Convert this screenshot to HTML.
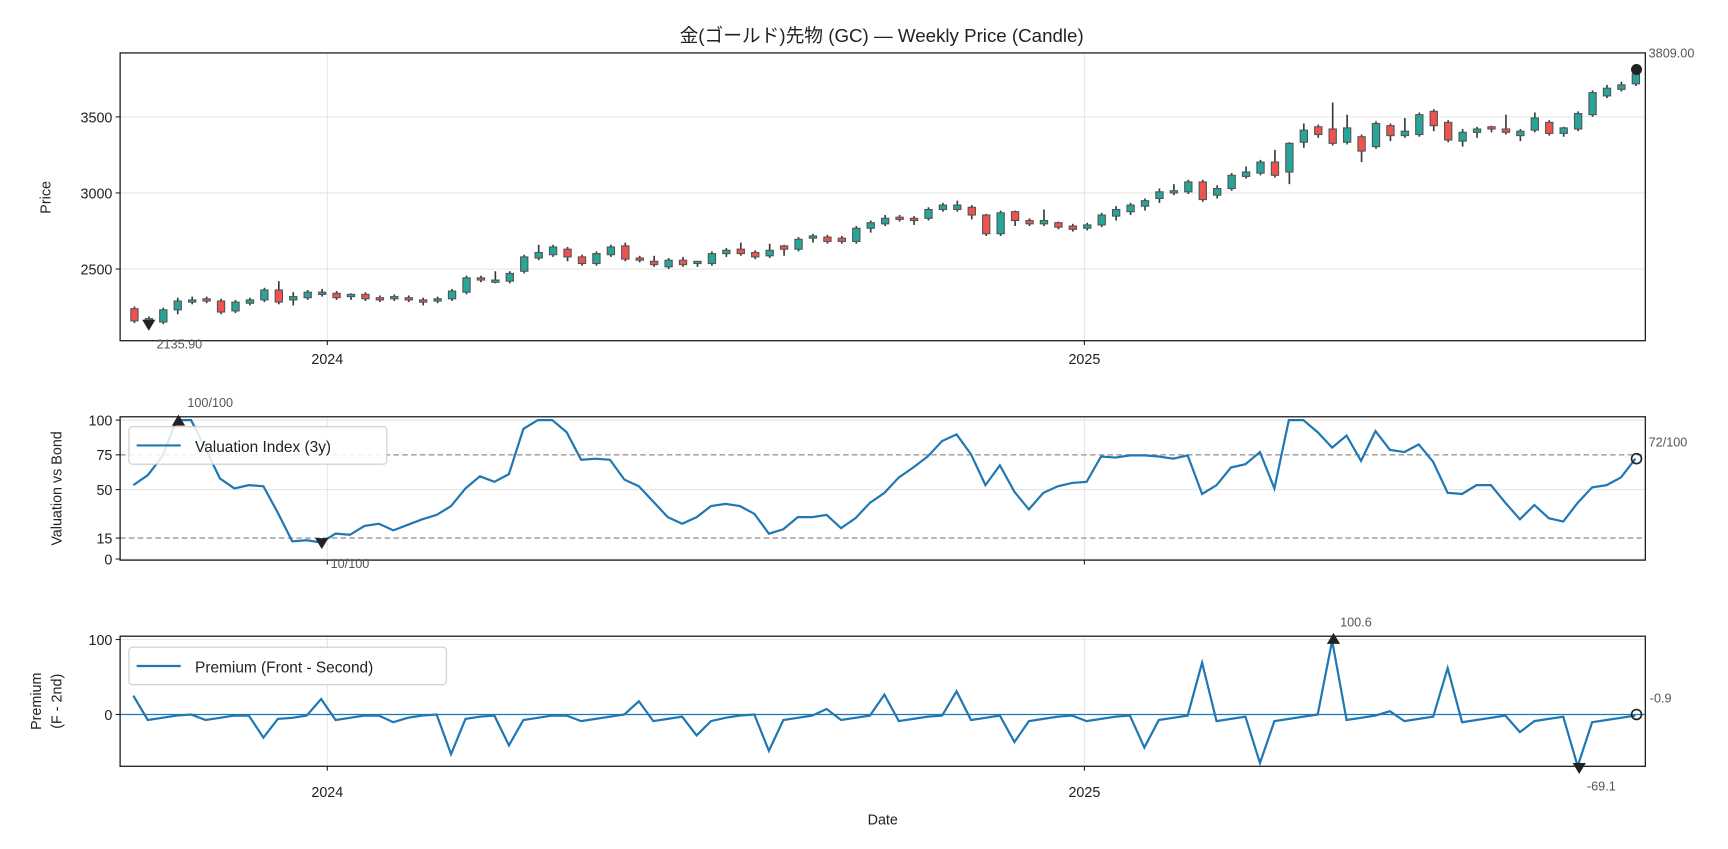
<!DOCTYPE html>
<html><head><meta charset="utf-8"><style>
html,body{margin:0;padding:0;background:#fff;}
svg{display:block;}
text{font-family:"Liberation Sans","Noto Sans CJK JP",sans-serif;fill:#222;}
</style></head><body>
<svg id="s" width="1728" height="849" viewBox="0 0 1568 770" preserveAspectRatio="none" xmlns="http://www.w3.org/2000/svg">
<rect x="0" y="0" width="1568" height="770" fill="#fff"/>
<text x="800" y="38" font-size="17" text-anchor="middle">金(ゴールド)先物 (GC) — Weekly Price (Candle)</text>
<!-- grids -->
<g stroke="#e6e6e6" stroke-width="1">
<line x1="109" y1="106" x2="1493" y2="106"/><line x1="109" y1="175" x2="1493" y2="175"/><line x1="109" y1="244" x2="1493" y2="244"/>
<line x1="297" y1="48" x2="297" y2="309"/><line x1="984" y1="48" x2="984" y2="309"/>
<line x1="109" y1="381" x2="1493" y2="381"/><line x1="109" y1="444" x2="1493" y2="444"/><line x1="109" y1="507" x2="1493" y2="507"/>
<line x1="297" y1="378" x2="297" y2="508"/><line x1="984" y1="378" x2="984" y2="508"/>
<line x1="109" y1="580" x2="1493" y2="580"/>
<line x1="297" y1="577" x2="297" y2="695"/><line x1="984" y1="577" x2="984" y2="695"/>
</g>
<g stroke="#999" stroke-width="1.2" stroke-dasharray="5,3">
<line x1="109" y1="412.5" x2="1493" y2="412.5"/><line x1="109" y1="488" x2="1493" y2="488"/>
</g>
<line x1="109" y1="648" x2="1493" y2="648" stroke="#1f77b4" stroke-width="1.2"/>
<g id="candles"></g>
<polyline id="val" fill="none" stroke="#1f77b4" stroke-width="2"/>
<polyline id="prem" fill="none" stroke="#1f77b4" stroke-width="2"/>
<!-- axes frames -->
<g fill="none" stroke="#222" stroke-width="1.2">
<rect x="109" y="48" width="1384" height="261"/>
<rect x="109" y="378" width="1384" height="130"/>
<rect x="109" y="577" width="1384" height="118"/>
</g>
<!-- ticks -->
<g stroke="#222" stroke-width="1">
<line x1="105" y1="106" x2="109" y2="106"/><line x1="105" y1="175" x2="109" y2="175"/><line x1="105" y1="244" x2="109" y2="244"/>
<line x1="297" y1="309" x2="297" y2="313"/><line x1="984" y1="309" x2="984" y2="313"/>
<line x1="105" y1="381" x2="109" y2="381"/><line x1="105" y1="412.5" x2="109" y2="412.5"/><line x1="105" y1="444" x2="109" y2="444"/><line x1="105" y1="488" x2="109" y2="488"/><line x1="105" y1="507" x2="109" y2="507"/>
<line x1="297" y1="508" x2="297" y2="512"/><line x1="984" y1="508" x2="984" y2="512"/>
<line x1="105" y1="580" x2="109" y2="580"/><line x1="105" y1="648" x2="109" y2="648"/>
<line x1="297" y1="695" x2="297" y2="699"/><line x1="984" y1="695" x2="984" y2="699"/>
</g>
<g font-size="13" text-anchor="end">
<text x="102" y="111">3500</text><text x="102" y="180">3000</text><text x="102" y="249">2500</text>
<text x="102" y="386">100</text><text x="102" y="417">75</text><text x="102" y="449">50</text><text x="102" y="493">15</text><text x="102" y="512">0</text>
<text x="102" y="585">100</text><text x="102" y="653">0</text>
</g>
<g font-size="13" text-anchor="middle">
<text x="297" y="330">2024</text><text x="984" y="330">2025</text>
<text x="297" y="723">2024</text><text x="984" y="723">2025</text>
<text x="801" y="748">Date</text>
</g>
<g font-size="13" text-anchor="middle">
<text transform="translate(46,179) rotate(-90)">Price</text>
<text transform="translate(56,443) rotate(-90)">Valuation vs Bond</text>
<text transform="translate(37,636) rotate(-90)">Premium</text>
<text transform="translate(56,636) rotate(-90)">(F - 2nd)</text>
</g>
<!-- legends -->
<rect x="117" y="387" width="234" height="34" rx="3" fill="#fff" fill-opacity="0.85" stroke="#ccc"/>
<line x1="124" y1="404" x2="164" y2="404" stroke="#1f77b4" stroke-width="2"/>
<text x="177" y="410" font-size="14">Valuation Index (3y)</text>
<rect x="117" y="587" width="288" height="34" rx="3" fill="#fff" fill-opacity="0.85" stroke="#ccc"/>
<line x1="124" y1="604" x2="164" y2="604" stroke="#1f77b4" stroke-width="2"/>
<text x="177" y="610" font-size="14">Premium (Front - Second)</text>
<!-- markers & annotations -->
<g fill="#222">
<polygon points="129,290 141,290 135,300"/>
<polygon points="156,386 168,386 162,376"/>
<polygon points="286,488 298,488 292,498"/>
<polygon points="1204,584 1216,584 1210,574"/>
<polygon points="1427,692 1439,692 1433,702"/>
</g>
<circle cx="1485" cy="63" r="5" fill="#222"/>
<circle cx="1485" cy="416" r="4.5" fill="none" stroke="#222" stroke-width="1.5"/>
<circle cx="1485" cy="648" r="4.5" fill="none" stroke="#222" stroke-width="1.5"/>
<g font-size="11.5" fill="#555">
<text x="142" y="316" style="fill:#555">2135.90</text>
<text x="1496" y="52" style="fill:#555">3809.00</text>
<text x="170" y="369" style="fill:#555">100/100</text>
<text x="300" y="515" style="fill:#555">10/100</text>
<text x="1496" y="405" style="fill:#555">72/100</text>
<text x="1216" y="568" style="fill:#555">100.6</text>
<text x="1497" y="637" style="fill:#555">-0.9</text>
<text x="1440" y="717" style="fill:#555">-69.1</text>
</g>
</svg>
<script>
var C=[[280,291,'r'],[289,291,'g'],[281,292,'g'],[273,281,'g',270,285],[272,274,'g',269,276],[271,273,'r'],[273,283,'r'],[274,282,'g'],[272,275,'g'],[263,272,'g'],
[263,274,'r',255],[269,272,'g',265,277],[265,270,'g'],[265,267,'g',262],[266,270,'r'],[267,268,'g',266,272],[267,271,'r'],[270,272,'r'],[269,271,'g',267],[270,272,'r'],
[272,274,'r',270,277],[271,273,'g'],[264,271,'g'],[252,265,'g'],[252,254,'r'],[254,255,'g',246,257],[248,255,'g'],[233,246,'g'],[229,234,'g',222,236],[224,231,'g'],
[226,233,'r',224,237],[233,239,'r'],[230,239,'g'],[224,231,'g'],[223,235,'r',220],[234,236,'r',232],[237,240,'r',232,242],[236,242,'g'],[236,240,'r',233],[237,239,'g',237,242],
[230,239,'g'],[227,230,'g',225,233],[226,230,'r',220],[229,233,'r'],[227,232,'g',221],[223,226,'r',222,232],[217,226,'g'],[214,216,'g',212,220],[215,219,'r'],[216,219,'r'],
[207,219,'g'],[202,207,'g',200,211],[198,203,'g',195],[197,199,'r'],[198,199,'r',196,204],[190,198,'g'],[186,190,'g'],[186,190,'g',182],[188,195,'r',186,199],[195,212,'r',194,214],
[193,212,'g'],[192,200,'r',191,205],[200,203,'r'],[200,203,'g',190],[202,206,'r',201,208],[205,208,'r'],[204,207,'g',202,209],[195,204,'g',193,206],[190,196,'g',187,200],[186,192,'g',184,195],
[182,187,'g',180,191],[174,180,'g',171,184],[173,175,'g',167],[165,174,'g'],[165,181,'r'],[171,177,'g',168,180],[159,171,'g',157,173],[156,160,'g',151],[147,157,'g'],[147,159,'r',136],
[130,156,'g',129,167],[118,129,'g',112,134],[115,122,'r',113,125],[117,130,'r',93,132],[116,129,'g',104],[124,137,'r',122,147],[112,133,'g'],[114,123,'r',112,128],[119,123,'g',107],[104,122,'g'],
[101,114,'r',99,119],[111,127,'r'],[120,128,'g',117,133],[117,120,'g',115,125],[115,117,'r',114,120],[117,120,'r',104],[119,123,'g',117,128],[107,118,'g',102],[111,121,'r'],[116,121,'g',115,124],
[103,117,'g'],[84,104,'g'],[80,87,'g',77],[77,81,'g',74,83],[67,76,'g']];
var h='';
for(var i=0;i<C.length;i++){var c=C[i],x=122+13.1*i,t=c[0],b=c[1],wt=c[3]!==undefined?c[3]:t-2,wb=c[4]!==undefined?c[4]:b+2;
if(b-t<2){b=t+2;}
h+='<line x1="'+x+'" y1="'+wt+'" x2="'+x+'" y2="'+wb+'" stroke="#3a3a3a" stroke-width="1.5"/>';
h+='<rect x="'+(x-3.3)+'" y="'+t+'" width="6.6" height="'+(b-t)+'" fill="'+(c[2]=='g'?'#26a69a':'#ef5350')+'" stroke="#555" stroke-width="1"/>';}
document.getElementById('candles').innerHTML=h;
var V=[440,431,414,381,381,407,434,443,440,441,465,491,490,492,484,485,477,475,481,476,471,467,459,443,432,437,430,389,381,381,392,417,416,417,435,441,455,469,475,469,459,457,459,466,484,480,469,469,467,479,470,456,447,433,424,414,400,394,412,440,422,446,462,447,441,438,437,414,415,413,413,414,416,413,448,440,424,421,410,443,381,381,392,406,395,418,391,408,410,403,419,447,448,440,440,456,471,458,470,473,456,442,440,433,416];
var P=[631,653,651,649,648,653,651,649,649,669,652,651,649,634,653,651,649,649,655,651,649,648,684,652,650,649,676,653,651,649,649,654,652,650,648,636,654,652,650,667,654,651,649,648,681,653,651,649,643,653,651,649,630,654,652,650,649,627,653,651,649,673,654,652,650,649,654,652,650,649,678,653,651,649,601,654,652,650,692,654,652,650,648,581,653,651,649,645,654,652,650,606,655,653,651,649,664,654,652,650,695,655,653,651,649];
function pts(A){var n=A.length,s='';for(var i=0;i<n;i++){s+=(121+(1484-121)*i/(n-1)).toFixed(1)+','+A[i]+' ';}return s;}
document.getElementById('val').setAttribute('points',pts(V));
document.getElementById('prem').setAttribute('points',pts(P));
</script>
</body></html>
